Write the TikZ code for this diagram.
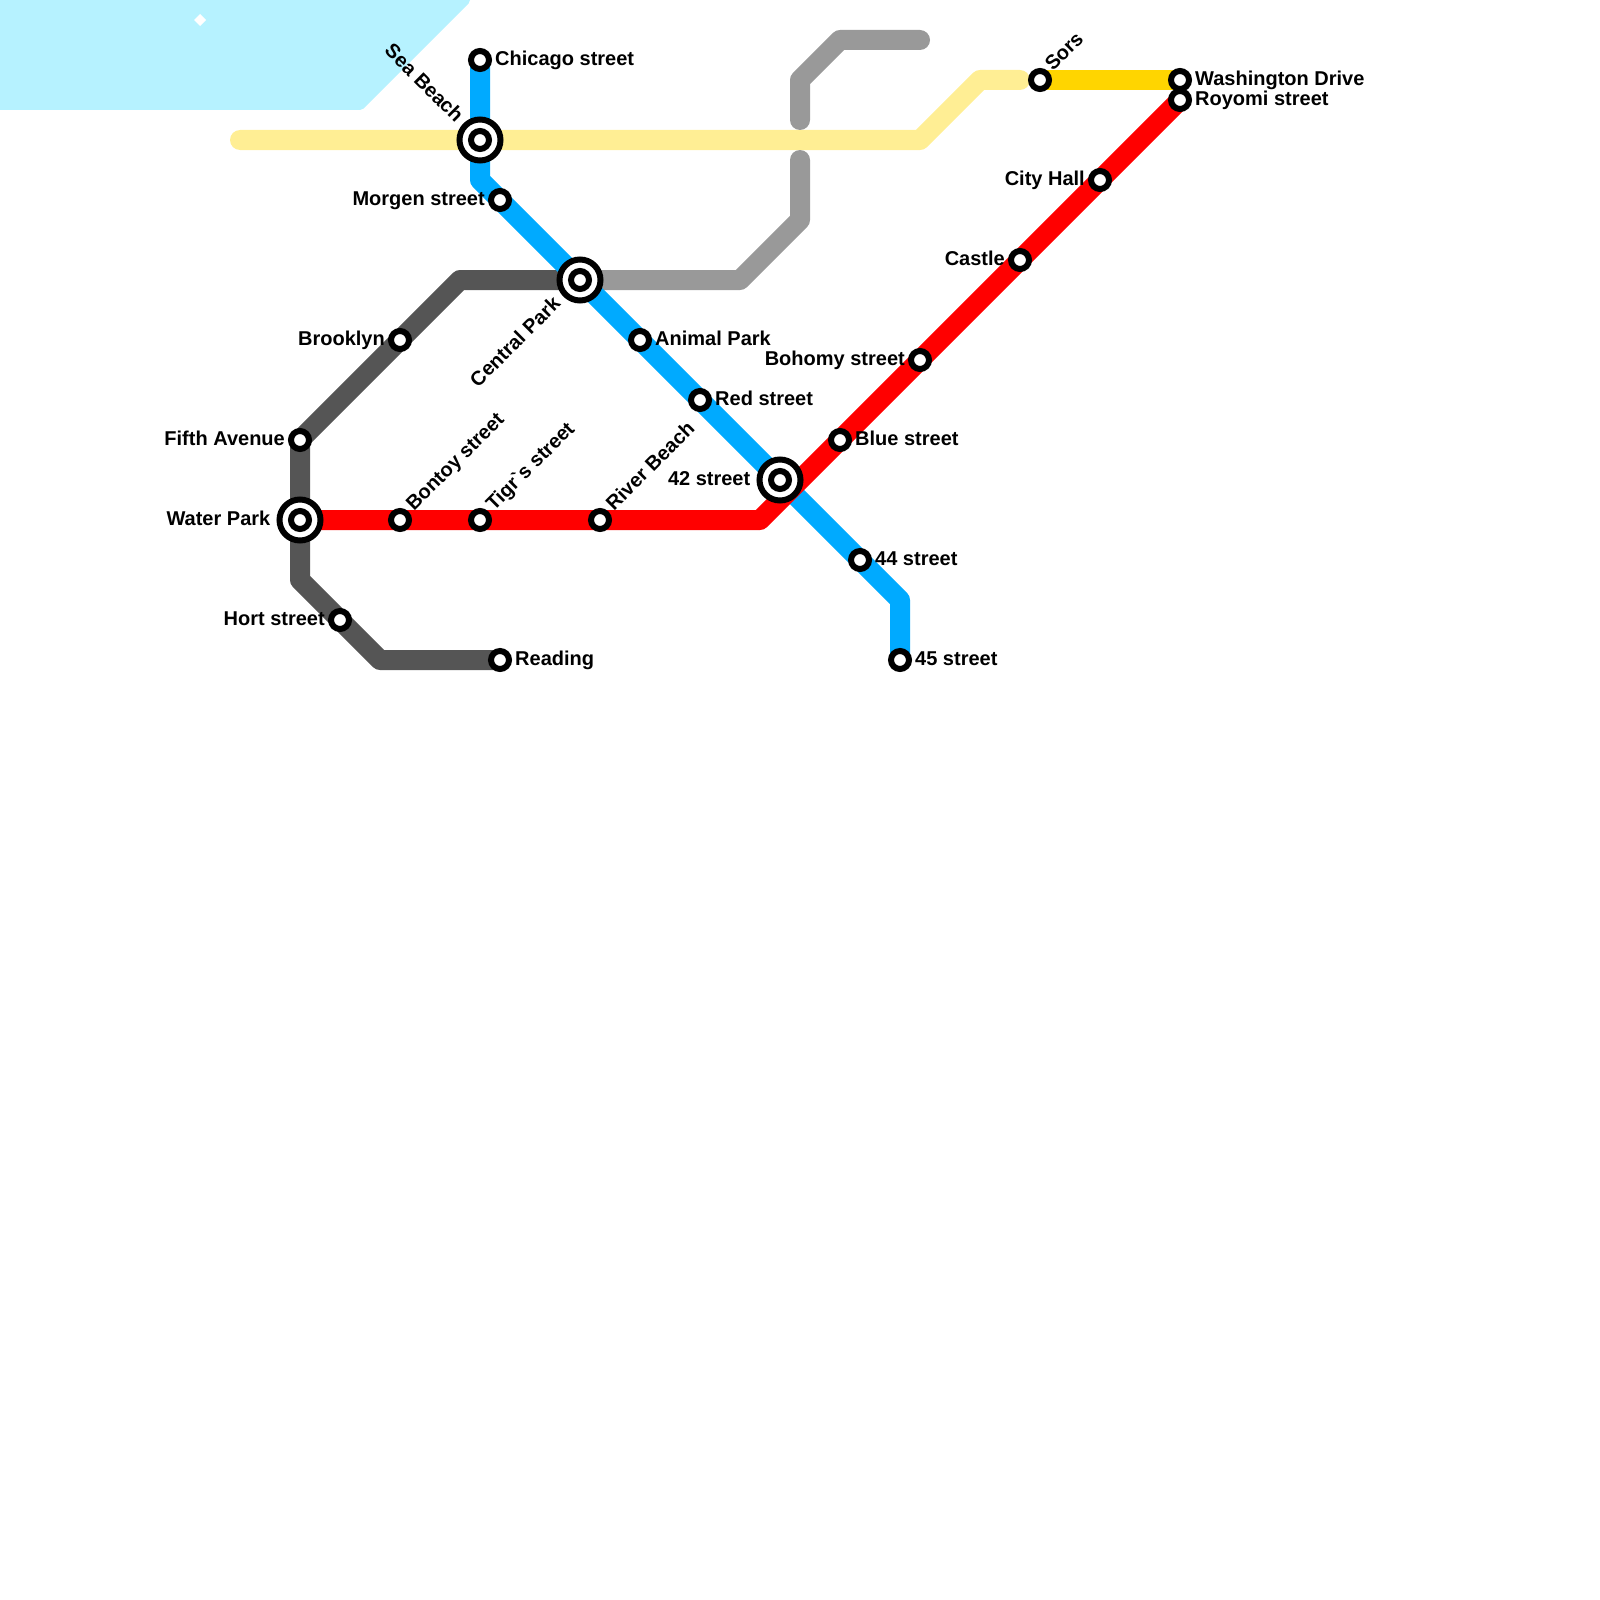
\documentclass[tikz,border=0pt]{standalone}
\usepackage{fontspec}
\setmainfont{Liberation Sans}
\usetikzlibrary{positioning,backgrounds}
\definecolor{waterblue}{HTML}{B6F2FF}
\definecolor{bluetrack}{HTML}{00AAFF}
\definecolor{redtrack}{HTML}{FF0000}
\definecolor{darktrack}{HTML}{555555}
\definecolor{greytrack}{HTML}{999999}
\definecolor{palegold}{HTML}{FFEE94}
\definecolor{goldtrack}{HTML}{FFD500}
\tikzset{
  track/.style={line width=20pt,line join=round,line cap=round},
  station/.style={circle,draw=black,fill=white,line width=6pt,minimum size=18pt,inner sep=0pt},
  hub/.style={circle,draw=black,fill=white,line width=6pt,minimum size=41pt,inner sep=0pt},
  stname/.style={font=\bfseries\fontsize{20}{22}\selectfont,inner sep=0pt,text=black,text height=14.5pt,text depth=4.2pt},
}

\begin{document}
\begin{tikzpicture}[x=20pt,y=-20pt]
\useasboundingbox (0,0) rectangle (80,80);
\fill[waterblue,rounded corners=2pt] (-1,-1) -- (23.5,-1) -- (23.5,0.1) -- (18.1,5.5) -- (-1,5.5) -- cycle;
\fill[white] (10,0.7) -- (10.3,1) -- (10,1.3) -- (9.7,1) -- cycle;
% hubs first, stations on top of them
\node[hub] (hubwater) at (15,26) {};
\node[hub] (hubsea) at (24,7) {};
\node[hub] (hubcentral) at (29,14) {};
\node[hub] (hub42) at (39,24) {};
\node[station] (water) at (15,26) {};
\node[station] (sea) at (24,7) {};
\node[station] (central) at (29,14) {};
\node[station] (st42) at (39,24) {};
\node[station] (chicago) at (24,3) {};
\node[station] (morgen) at (25,10) {};
\node[station] (animal) at (32,17) {};
\node[station] (red) at (35,20) {};
\node[station] (st44) at (43,28) {};
\node[station] (st45) at (45,33) {};
\node[station] (brooklyn) at (20,17) {};
\node[station] (fifth) at (15,22) {};
\node[station] (hort) at (17,31) {};
\node[station] (reading) at (25,33) {};
\node[station] (bontoy) at (20,26) {};
\node[station] (tigr) at (24,26) {};
\node[station] (river) at (30,26) {};
\node[station] (bluest) at (42,22) {};
\node[station] (bohomy) at (46,18) {};
\node[station] (castle) at (51,13) {};
\node[station] (cityhall) at (55,9) {};
\node[station] (royomi) at (59,5) {};
\node[station] (washington) at (59,4) {};
\node[station] (sors) at (52,4) {};
\coordinate (paleend) at (12,7);
\coordinate (paletip) at (51,4);
\coordinate (greyendA) at (46,2);
\coordinate (greyendB) at (40,6);
\coordinate (greyendC) at (40,8);
\begin{scope}[on background layer]
\draw[track,palegold] (paleend) -- (46,7) -- (49,4) -- (paletip);
\draw[track,goldtrack] (sors.center) -- (washington.center);
\draw[track,greytrack] (central.center) -- (37,14) -- (40,11) -- (greyendC);
\draw[track,greytrack] (greyendB) -- (40,4) -- (42,2) -- (greyendA);
\draw[track,darktrack] (central.center) -- (23,14) -- (brooklyn.center) -- (fifth.center) -- (water.center) -- (15,29) -- (hort.center) -- (19,33) -- (reading.center);
\draw[track,bluetrack] (chicago.center) -- (sea.center) -- (24,9) -- (morgen.center) -- (central.center) -- (animal.center) -- (red.center) -- (st42.center) -- (st44.center) -- (45,30) -- (st45.center);
\draw[track,redtrack] (water.center) -- (bontoy.center) -- (tigr.center) -- (river.center) -- (38,26) -- (bluest.center) -- (bohomy.center) -- (castle.center) -- (cityhall.center) -- (royomi.center);
\end{scope}
% names
\node[stname,right=3pt of chicago] (lchicago) {Chicago street};
\node[stname,left=3pt of morgen] (lmorgen) {Morgen street};
\node[stname,right=3pt of animal] (lanimal) {Animal Park};
\node[stname,right=3pt of red] (lred) {Red street};
\node[stname,left=6pt of hub42] (l42) {42 street};
\node[stname,right=3pt of st44] (l44) {44 street};
\node[stname,right=3pt of st45] (l45) {45 street};
\node[stname,left=3pt of brooklyn] (lbrooklyn) {Brooklyn};
\node[stname,left=3pt of fifth] (lfifth) {Fifth Avenue};
\node[stname,left=6pt of hubwater] (lwater) {Water Park};
\node[stname,left=3pt of hort] (lhort) {Hort street};
\node[stname,right=3pt of reading] (lreading) {Reading};
\node[stname,right=3pt of bluest] (lblue) {Blue street};
\node[stname,left=3pt of bohomy] (lbohomy) {Bohomy street};
\node[stname,left=3pt of castle] (lcastle) {Castle};
\node[stname,left=3pt of cityhall] (lcity) {City Hall};
\node[stname,right=3pt of royomi] (lroyomi) {Royomi street};
\node[stname,right=3pt of washington] (lwash) {Washington Drive};
\node[stname,rotate=45,anchor=south west] (lbontoy) at (20.85,25.75) {Bontoy street};
\node[stname,rotate=45,anchor=south west] (ltigr) at (24.85,25.75) {Tigr\textasciigrave s street};
\node[stname,rotate=45,anchor=south west] (lriver) at (30.85,25.75) {River Beach};
\node[stname,rotate=45,anchor=south west] (lsors) at (52.8,3.75) {Sors};
\node[stname,rotate=45,anchor=east] (lcentral) at (27.9,15.05) {Central Park};
\node[stname,rotate=-45,anchor=east] (lsea) at (22.95,6) {Sea Beach};
\end{tikzpicture}
\end{document}
